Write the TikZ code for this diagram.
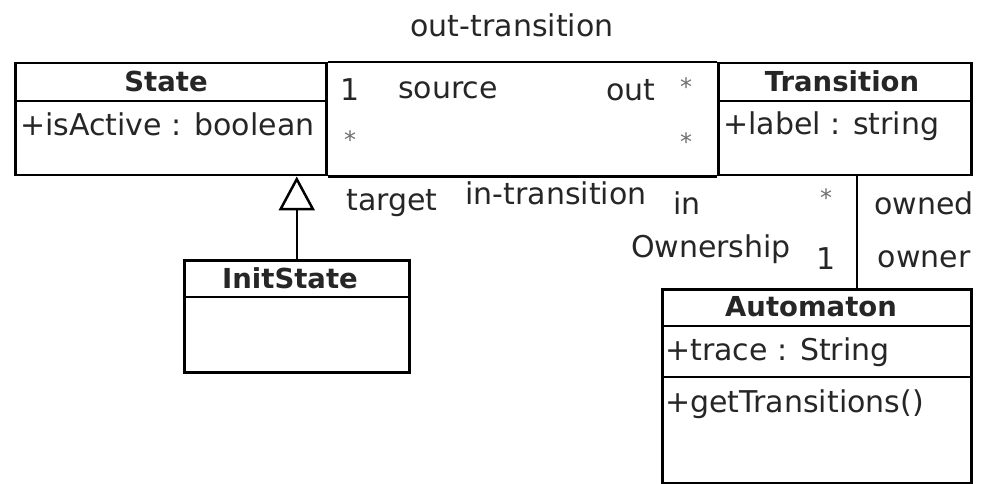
\documentclass[tikz,border=0pt]{standalone}
\usepackage{fontspec}
\setmainfont{DejaVu Sans}
\usetikzlibrary{arrows.meta}
\definecolor{txt}{HTML}{262626}
\definecolor{star}{HTML}{6E6E6E}
\tikzset{
  cls/.style={draw=black, line width=2.5pt, rectangle, inner sep=0pt, anchor=north west},
  hdr/.style={font=\fontsize{27.5}{32}\selectfont\bfseries, text=txt, inner sep=0pt},
  attr/.style={font=\fontsize{30}{34}\selectfont, text=txt, inner sep=0pt, anchor=west},
  lbl/.style={font=\fontsize{30}{34}\selectfont, text=txt, inner sep=0pt},
  mult/.style={font=\fontsize{24}{28}\selectfont, text=star, inner sep=0pt},
  conn/.style={draw=black, line width=2.5pt},
  divider/.style={draw=black, line width=2.5pt}
}
\begin{document}
\begin{tikzpicture}[x=1pt,y=-1pt]
\useasboundingbox (0,0) rectangle (989,484);
% classes
\node[cls, minimum width=311pt, minimum height=112pt] (state) at (14,62) {};
\node[cls, minimum width=253pt, minimum height=112pt] (trans) at (717,62) {};
\node[cls, minimum width=225pt, minimum height=112pt] (init) at (183,259) {};
\node[cls, minimum width=309pt, minimum height=194pt] (auto) at (661,288) {};
% dividers
\draw[divider] (14,101) -- (325,101);
\draw[divider] (717,101) -- (970,101);
\draw[divider] (183,297) -- (408,297);
\draw[divider] (661,326) -- (970,326);
\draw[divider] (661,377) -- (970,377);
% headers
\node[hdr] (stateh) at (166,81) {State};
\node[hdr] (transh) at (842,81) {Transition};
\node[hdr] (inith) at (290,278) {InitState};
\node[hdr] (autoh) at (811,307) {Automaton};
% attributes
\node[attr] (statea) at (20,124) {+isActive : boolean};
\node[attr] (transa) at (723,126) {+label : string};
\node[attr] (autoa) at (665,352) {+trace : String};
\node[attr] (autoo) at (665,404) {+getTransitions()};
% connectors
\draw[conn] (state.north east) -- (trans.north west);
\draw[conn] (state.south east) -- (trans.south west);
\coordinate (ownx) at (857,0);
\draw[conn] (ownx |- trans.south) -- (ownx |- auto.north);
\draw[conn, -{Triangle[open, length=34pt, width=36pt, line width=2.5pt]}] (init.north) -- (init.north |- state.south);
% labels
\node[lbl] (outt) at (512,25) {out-transition};
\node[lbl] (one1) at (350,90) {1};
\node[lbl] (src) at (448,90) {source};
\node[lbl] (outl) at (631,90) {out};
\node[mult] (s1) at (686,87) {*};
\node[mult] (s2) at (350,140) {*};
\node[mult] (s3) at (686,142) {*};
\node[lbl] (tgt) at (392,203) {target};
\node[lbl] (intr) at (556,193) {in-transition};
\node[lbl] (inl) at (687,203) {in};
\node[mult] (s4) at (826,198) {*};
\node[lbl] (owned) at (924,203) {owned};
\node[lbl] (ownsh) at (711,249) {Ownership};
\node[lbl] (one2) at (826,259) {1};
\node[lbl] (owner) at (924,259) {owner};
\end{tikzpicture}
\end{document}
